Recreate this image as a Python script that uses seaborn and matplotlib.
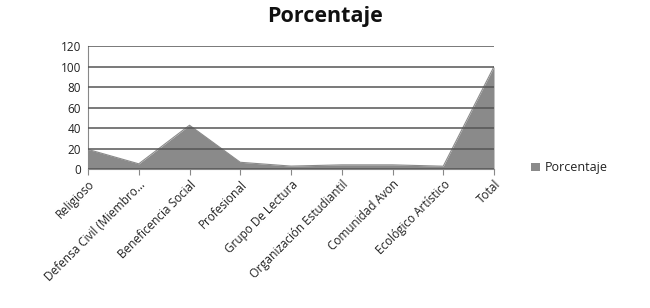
import matplotlib
matplotlib.use("Agg")
import matplotlib.pyplot as plt
import seaborn as sns
import pandas as pd
from matplotlib.patches import Patch

categories = ["Religioso", "Defensa Civil (Miembro...", "Beneficencia Social",
              "Profesional", "Grupo De Lectura", "Organización Estudiantil",
              "Comunidad Avon", "Ecológico Artístico", "Total"]
porcentaje = [19.5, 5.5, 43.0, 7.0, 3.3, 4.5, 4.5, 3.2, 100.0]
y_ticks = [0, 20, 40, 60, 80, 100, 120]

df = pd.DataFrame({"cat": categories, "val": porcentaje})
df["pos"] = range(len(df))

sns.set_style("white")
plt.rcParams["font.family"] = ["Open Sans", "DejaVu Sans"]

fig = plt.figure(figsize=(6.5, 3.08), dpi=100)
ax = fig.add_axes([0.1354, 0.4497, 0.6246, 0.4009])

area_color = "#8a8a8a"
ax.fill_between(df["pos"], df["val"], 0, color=area_color, linewidth=0)
sns.lineplot(data=df, x="pos", y="val", ax=ax, color=area_color, linewidth=0.8)

ax.set_xlim(0, len(df) - 1)
ax.set_ylim(0, 120)
ax.set_yticks(y_ticks)
ax.set_xticks(df["pos"])
ax.set_xticklabels(df["cat"], rotation=45, ha="right", rotation_mode="anchor",
                   fontsize=8.5, color="#222222")
ax.tick_params(axis="y", labelsize=8.5, labelcolor="#222222", length=3, width=0.8,
               color="#888888", pad=2)
ax.tick_params(axis="x", length=4, width=0.8, color="#888888", pad=2, bottom=True)
ax.set_xlabel("")
ax.set_ylabel("")
ax.yaxis.grid(True, color="#555555", linewidth=1.1)
ax.set_axisbelow(False)
for side in ["top", "right"]:
    ax.spines[side].set_visible(False)
for side in ["left", "bottom"]:
    ax.spines[side].set_color("#888888")
    ax.spines[side].set_linewidth(0.8)

fig.text(0.5, 0.945, "Porcentaje", ha="center", va="center", fontsize=15.5,
         fontweight="bold", color="#111111")

handles = [Patch(facecolor=area_color, edgecolor="none", label="Porcentaje")]
fig.legend(handles=handles, loc="center left", bbox_to_anchor=(0.8, 0.455),
           frameon=False, fontsize=9, handlelength=0.7, handleheight=0.7,
           handletextpad=0.4, labelcolor="#222222")

fig.savefig("out.png", dpi=100)
